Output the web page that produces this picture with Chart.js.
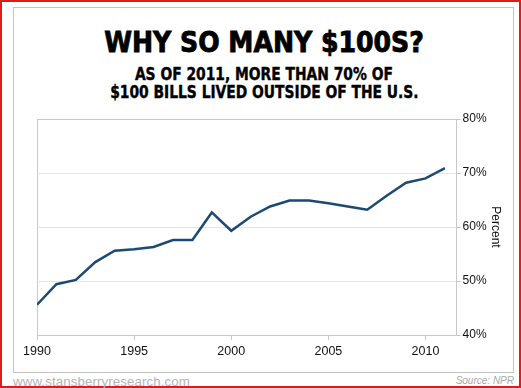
<!DOCTYPE html>
<html>
<head>
<meta charset="utf-8">
<script src="https://cdn.jsdelivr.net/npm/chart.js@4.4.0/dist/chart.umd.min.js"></script>
<style>
  html, body { margin: 0; padding: 0; background: #fff; }
  body { width: 521px; height: 388px; position: relative; overflow: hidden; }
  #frame { position: absolute; left: 0; top: 0; width: 517px; height: 384px; border: 2px solid #e01b1b; }
  #box { position: absolute; left: 13px; top: 7px; width: 499px; height: 364px; border: 1px solid #c4c4c4; }
  .t { position: absolute; left: 0; width: 528px; text-align: center; color: #000; white-space: nowrap; }
  .t span { display: inline-block; transform-origin: center; }
  #title { top: 26px; font: bold 28px "DejaVu Sans Condensed", "DejaVu Sans", sans-serif; -webkit-text-stroke: 0.8px #000; }
  #sub1 { top: 63px; font: bold 18px "DejaVu Sans Condensed", "DejaVu Sans", sans-serif; -webkit-text-stroke: 0.4px #000; }
  #sub2 { top: 81px; font: bold 18px "DejaVu Sans Condensed", "DejaVu Sans", sans-serif; -webkit-text-stroke: 0.4px #000; }
  #sub1 span, #sub2 span { transform: scaleX(0.855); }
  #site { position: absolute; left: 13px; top: 374px; font: 13.3px "Liberation Sans", Arial, sans-serif; color: #b4b4b4; letter-spacing: 0.1px; }
  #src { position: absolute; right: 7px; top: 375px; font: italic 10px "Liberation Sans", Arial, sans-serif; color: #a8a8a8; }
  #wrap { position: absolute; left: 0; top: 0; width: 521px; height: 388px; }
</style>
</head>
<body>
<div id="frame"></div>
<div id="box"></div>
<div class="t" id="title"><span>WHY SO MANY $100S?</span></div>
<div class="t" id="sub1"><span>AS OF 2011, MORE THAN 70% OF</span></div>
<div class="t" id="sub2"><span>$100 BILLS LIVED OUTSIDE OF THE U.S.</span></div>
<div id="site">www.stansberryresearch.com</div>
<div id="src">Source: NPR</div>
<div id="wrap"><canvas id="chart"></canvas></div>
<script>
// share of $100 bills held abroad
const years = [1990, 1991, 1992, 1993, 1994, 1995, 1996, 1997, 1998, 1999, 2000,
               2001, 2002, 2003, 2004, 2005, 2006, 2007, 2008, 2009, 2010, 2011];
const pct = [45.6, 49.4, 50.2, 53.5, 55.6, 55.9, 56.3, 57.6, 57.6, 62.7, 59.3,
             61.9, 63.8, 64.9, 64.9, 64.4, 63.8, 63.2, 65.8, 68.2, 69.0, 70.9];
const xTicks = [1990, 1995, 2000, 2005, 2010];
const yTicks = [40, 50, 60, 70, 80];

const gridGray = '#e4e4e4';
const axisGray = '#c8c8c8';

const ctx = document.getElementById('chart').getContext('2d');
const chart = new Chart(ctx, {
    type: 'line',
    data: {
        datasets: [{
            data: years.map((y, i) => ({ x: y, y: pct[i] })),
            borderColor: '#1d4a73',
            borderWidth: 2.5,
            pointRadius: 0,
            tension: 0,
            fill: false
        }]
    },
    options: {
        responsive: true,
        maintainAspectRatio: false,
        animation: false,
        layout: { padding: { left: 37, top: 119, right: 13, bottom: 25 } },
        plugins: { legend: { display: false }, tooltip: { enabled: false } },
        scales: {
            x: {
                type: 'linear',
                min: 1990,
                max: 2011.6,
                afterBuildTicks: (s) => { s.ticks = xTicks.map(v => ({ value: v })); },
                ticks: {
                    callback: (v) => String(v),
                    color: '#111',
                    font: { family: 'Liberation Sans', size: 12.5 },
                    maxRotation: 0,
                    padding: 4
                },
                grid: {
                    color: (c) => (c.tick && c.tick.value === 1990 ? axisGray : 'rgba(0,0,0,0)'),
                    tickColor: axisGray,
                    tickLength: 5
                },
                border: { color: axisGray }
            },
            y: {
                position: 'right',
                min: 40,
                max: 80,
                afterBuildTicks: (s) => { s.ticks = yTicks.map(v => ({ value: v })); },
                ticks: {
                    callback: (v) => v + '%',
                    color: '#111',
                    font: { family: 'Liberation Sans', size: 12 },
                    padding: 2
                },
                grid: {
                    color: (c) => (c.tick && (c.tick.value === 80 || c.tick.value === 40) ? axisGray : gridGray),
                    tickColor: axisGray,
                    tickLength: 4
                },
                border: { color: axisGray },
                title: {
                    display: true,
                    text: 'Percent',
                    color: '#111',
                    font: { family: 'Liberation Sans', size: 12 },
                    padding: { top: 5, bottom: 0 }
                }
            }
        }
    }
});
</script>
</body>
</html>
